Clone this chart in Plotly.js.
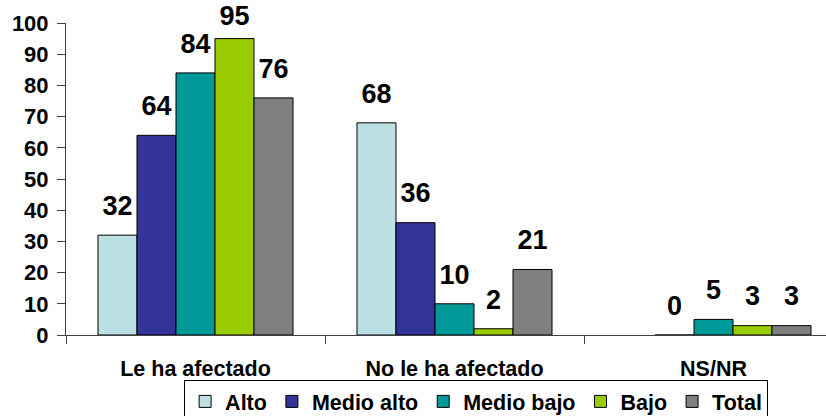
<!DOCTYPE html>
<html>
<head>
<meta charset="utf-8">
<script src="https://cdn.plot.ly/plotly-3.0.1.min.js"></script>
<style>
html,body{margin:0;padding:0;overflow:hidden;background:#fff;}
#chart{width:860px;height:416px;}
</style>
</head>
<body>
<div id="chart"></div>
<script>
const categories = ["Le ha afectado", "No le ha afectado", "NS/NR"];
const seriesNames = ["Alto", "Medio alto", "Medio bajo", "Bajo", "Total"];
const alto = [32, 68, null];
const medioAlto = [64, 36, 0];
const medioBajo = [84, 10, 5];
const bajo = [95, 2, 3];
const total = [76, 21, 3];
const colors = ["#BCE0E3", "#333399", "#009999", "#99CC00", "#808080"];
const yTicks = [0, 10, 20, 30, 40, 50, 60, 70, 80, 90, 100];

const seriesValues = [alto, medioAlto, medioBajo, bajo, total];
const FONT = "Liberation Sans, Arial, sans-serif";

const traces = [];
seriesValues.forEach((vals, i) => {
  traces.push({
    type: "bar",
    name: seriesNames[i],
    x: categories,
    y: vals,
    marker: {color: colors[i], line: {color: "#000000", width: 1}},
    hoverinfo: "x+y+name"
  });
});
// data labels, kept inside the plot area near the top (as the original does)
seriesValues.forEach((vals, i) => {
  traces.push({
    type: "scatter",
    mode: "markers+text",
    x: categories,
    y: vals,
    text: vals.map(v => v === null ? "" : String(v)),
    textposition: "top center",
    textfont: {family: FONT, size: 27, color: "#000000", weight: "bold"},
    marker: {size: vals.map(v => (v !== null && v > 90) ? 10 : 20), opacity: 0},
    showlegend: false,
    hoverinfo: "skip",
    cliponaxis: false
  });
});

const layout = {
  width: 860,
  height: 416,
  margin: {l: 66, r: 17, t: 23, b: 81, autoexpand: false},
  paper_bgcolor: "#ffffff",
  plot_bgcolor: "#ffffff",
  barmode: "group",
  bargap: 0.247,
  bargroupgap: 0,
  scattermode: "group",
  scattergap: 0.247,
  font: {family: FONT, color: "#000000", weight: "bold"},
  showlegend: true,
  legend: {
    orientation: "h",
    x: 0.152, xanchor: "left",
    y: -0.144, yanchor: "top",
    bordercolor: "#000000", borderwidth: 1,
    bgcolor: "#ffffff",
    font: {family: FONT, size: 21.5, color: "#000000", weight: "bold"},
    traceorder: "normal"
  },
  xaxis: {
    type: "category",
    showline: true, linecolor: "#404040", linewidth: 1,
    ticks: "outside", tickson: "boundaries", ticklen: 8, tickcolor: "#404040",
    ticklabelstandoff: 14,
    tickfont: {family: FONT, size: 21.5, color: "#000000", weight: "bold"},
    showgrid: false, zeroline: false, fixedrange: true
  },
  yaxis: {
    range: [0, 100],
    tickvals: yTicks,
    ticktext: yTicks.map(String),
    showline: true, linecolor: "#404040", linewidth: 1,
    ticks: "outside", ticklen: 8, tickcolor: "#404040",
    ticklabelstandoff: 4,
    tickfont: {family: FONT, size: 22, color: "#000000", weight: "bold"},
    showgrid: false, zeroline: false, fixedrange: true
  }
};

Plotly.newPlot("chart", traces, layout, {displayModeBar: false, staticPlot: true});
</script>
</body>
</html>
